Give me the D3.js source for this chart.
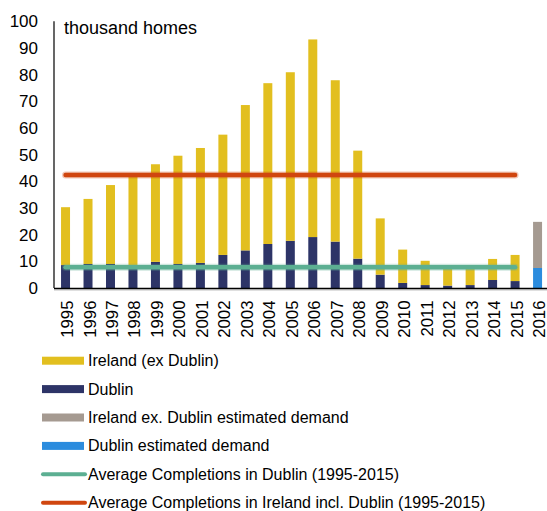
<!DOCTYPE html>
<html>
<head>
<meta charset="utf-8">
<script src="https://cdn.jsdelivr.net/npm/d3@7"></script>
<style>
  html, body { margin: 0; padding: 0; background: #fff; }
  svg { display: block; font-family: "Liberation Sans", Arial, sans-serif; }
</style>
</head>
<body>
<svg id="chart" width="547" height="511"></svg>
<script>
// Housing completions, thousand homes
const years = ["1995","1996","1997","1998","1999","2000","2001","2002","2003","2004","2005",
               "2006","2007","2008","2009","2010","2011","2012","2013","2014","2015","2016"];
// total completions in Ireland (incl. Dublin), 1995-2015
const irelandTotal = [30.3,33.4,38.6,41.7,46.4,49.6,52.5,57.5,68.6,76.8,80.9,
                      93.2,77.9,51.5,26.1,14.4,10.2,7.5,7.7,10.9,12.4];
// Dublin completions, 1995-2015
const dublin = [8.6,9.0,9.0,8.5,9.8,9.0,9.4,12.4,14.1,16.5,17.7,
                19.1,17.4,11.0,5.0,1.9,1.1,0.9,1.1,3.0,2.6];
// 2016 estimated demand
const demandYear = "2016";
const dublinDemand = 7.5;
const irelandExDublinDemand = 17.3;
// averages over 1995-2015
const avgDublin = 7.8;
const avgIreland = 42.4;
const avgFrom = "1995", avgTo = "2015";

const yTicks = [0,10,20,30,40,50,60,70,80,90,100];
const legendItems = [
  {label: "Ireland (ex Dublin)", type: "rect", color: "#E2BF1F"},
  {label: "Dublin", type: "rect", color: "#2D3467"},
  {label: "Ireland ex. Dublin estimated demand", type: "rect", color: "#A59A91"},
  {label: "Dublin estimated demand", type: "rect", color: "#2B8CDE"},
  {label: "Average Completions in Dublin (1995-2015)", type: "line", color: "#5CAF92"},
  {label: "Average Completions in Ireland incl. Dublin (1995-2015)", type: "line", color: "#D0460F"}
];

const svg = d3.select("#chart");

const x = d3.scaleBand().domain(years).range([54.3, 548.8]).paddingInner(0.6).paddingOuter(0.3);
const y = d3.scaleLinear().domain([0, 100]).range([288, 21.3]);

// stacked series: Dublin at the bottom, rest of Ireland on top; 2016 holds the demand estimates
const rows = irelandTotal.map((t, i) => ({year: years[i], dublin: dublin[i], rest: t - dublin[i]}));
rows.push({year: demandYear, dublinEst: dublinDemand, restEst: irelandExDublinDemand});
const keys = ["dublin", "rest", "dublinEst", "restEst"];
const colors = {dublin: "#2D3467", rest: "#E2BF1F", dublinEst: "#2B8CDE", restEst: "#A59A91"};
const stack = d3.stack().keys(keys).value((d, k) => d[k] || 0);
const series = stack(rows);

svg.append("g").selectAll("g").data(series).join("g")
  .attr("fill", s => colors[s.key])
  .selectAll("rect").data(s => s.filter(d => d[1] > d[0])).join("rect")
  .attr("x", d => x(d.data.year))
  .attr("width", x.bandwidth())
  .attr("y", d => y(d[1]))
  .attr("height", d => y(d[0]) - y(d[1]));

// average lines across 1995-2015
const avgLine = (v, color) => {
  const x1 = x(avgFrom) + x.bandwidth() / 2, x2 = x(avgTo) + x.bandwidth() / 2;
  svg.append("line").attr("x1", x1).attr("x2", x2).attr("y1", y(v)).attr("y2", y(v))
    .attr("stroke", color).attr("stroke-width", 7).attr("stroke-opacity", 0.3).attr("stroke-linecap", "round");
  svg.append("line").attr("x1", x1).attr("x2", x2).attr("y1", y(v)).attr("y2", y(v))
    .attr("stroke", color).attr("stroke-width", 4.5).attr("stroke-linecap", "round");
};
avgLine(avgIreland, "#D0460F");
avgLine(avgDublin, "#5CAF92");

// y axis
const yAxis = svg.append("g").attr("transform", "translate(54,0)")
  .call(d3.axisLeft(y).tickValues(yTicks).tickSize(0).tickPadding(16).tickFormat(d3.format("d")));
yAxis.select(".domain").attr("stroke", "#000").attr("stroke-width", 1.2).attr("d", `M0,${y(100)}V${y(0)}`);
yAxis.selectAll("text").attr("font-size", 17).attr("fill", "#000").attr("font-family", "Liberation Sans, Arial, sans-serif");

// x axis
svg.append("line").attr("x1", 54).attr("x2", 547).attr("y1", 290).attr("y2", 290)
  .attr("stroke", "#d4d4d4").attr("stroke-width", 1.5);
const xAxis = svg.append("g").attr("transform", "translate(0,288.5)")
  .call(d3.axisBottom(x).tickSize(0).tickPadding(0));
xAxis.select(".domain").attr("stroke", "#000").attr("stroke-width", 1.5).attr("d", "M54,0H547");
xAxis.selectAll("text")
  .attr("font-size", 16.8).attr("fill", "#000").attr("font-family", "Liberation Sans, Arial, sans-serif")
  .attr("text-anchor", "end")
  .attr("dominant-baseline", "central")
  .attr("dy", null)
  .attr("y", 0)
  .attr("transform", "translate(2,12) rotate(-90)");

// unit label
svg.append("text").attr("x", 64).attr("y", 28).attr("font-size", 18)
  .attr("dominant-baseline", "central").attr("fill", "#000").text("thousand homes");

// legend
const legend = svg.append("g");
const rowY = d3.scaleLinear().domain([0, 5]).range([360.7, 502.7]);
legendItems.forEach((it, i) => {
  const g = legend.append("g").attr("transform", `translate(0,${rowY(i)})`);
  if (it.type === "rect") {
    g.append("rect").attr("x", 42).attr("y", -4).attr("width", 42).attr("height", 8).attr("fill", it.color);
  } else {
    g.append("line").attr("x1", 43).attr("x2", 85).attr("y1", 0).attr("y2", 0)
      .attr("stroke", it.color).attr("stroke-width", 4).attr("stroke-linecap", "round");
  }
  g.append("text").attr("x", 88).attr("y", 0).attr("dominant-baseline", "central")
    .attr("font-size", 16).attr("fill", "#000").text(it.label);
});
</script>
</body>
</html>
